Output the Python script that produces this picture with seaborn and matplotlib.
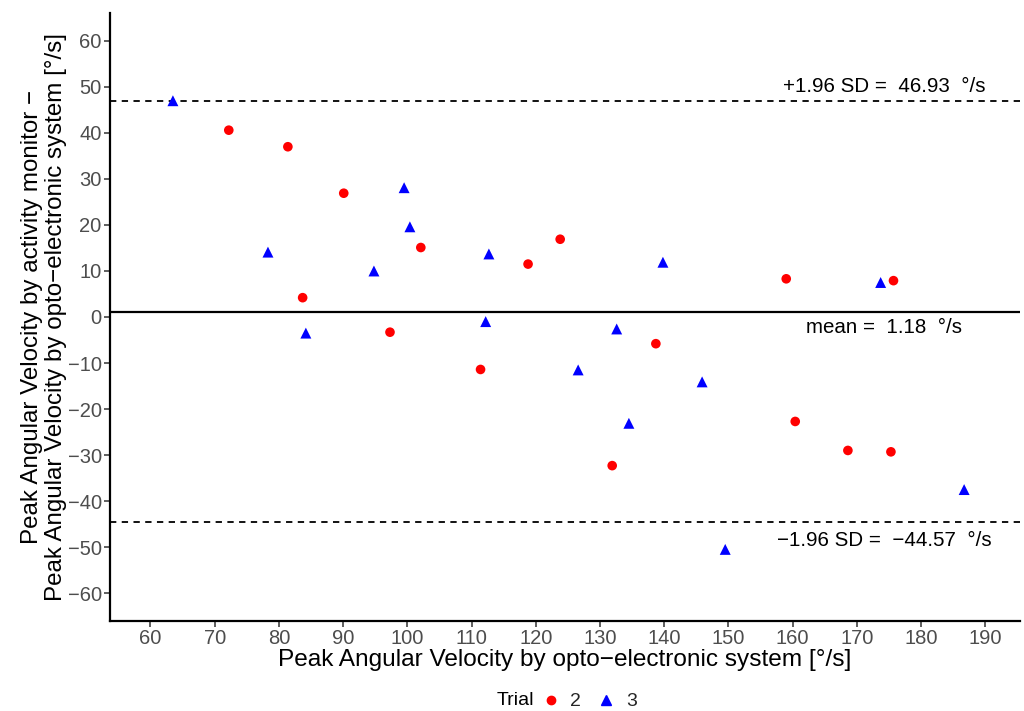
import matplotlib
matplotlib.use("Agg")
import matplotlib.pyplot as plt
import seaborn as sns
import pandas as pd
from matplotlib.lines import Line2D

# ---- data ----
trial2_x = [72.2, 81.4, 90.1, 102.1, 83.7, 97.3, 111.4, 118.8, 123.8, 159.0,
            175.7, 138.7, 131.9, 160.4, 168.6, 175.3]
trial2_y = [40.6, 37.0, 26.9, 15.1, 4.2, -3.3, -11.4, 11.5, 16.9, 8.3,
            7.9, -5.8, -32.3, -22.7, -29.0, -29.3]
trial3_x = [63.5, 99.5, 100.4, 78.3, 94.8, 112.7, 84.2, 112.2, 139.8, 173.7,
            132.6, 126.6, 145.9, 134.5, 186.7, 149.5]
trial3_y = [47.0, 28.1, 19.6, 14.1, 10.0, 13.7, -3.5, -1.0, 11.9, 7.5,
            -2.6, -11.5, -14.1, -23.1, -37.5, -50.5]
mean_diff = 1.18
upper_loa = 46.93
lower_loa = -44.57
x_ticks = list(range(60, 200, 10))
y_ticks = list(range(-60, 70, 10))
trial_labels = ["2", "3"]

df = pd.DataFrame({
    "x": trial2_x + trial3_x,
    "y": trial2_y + trial3_y,
    "Trial": [trial_labels[0]] * len(trial2_x) + [trial_labels[1]] * len(trial3_x),
})

sns.set_theme(style="white")
plt.rcParams["font.family"] = ["Liberation Sans", "DejaVu Sans"]

fig = plt.figure(figsize=(10.24, 7.11), dpi=100)
ax = fig.add_axes([0.1074, 0.127, 0.8887, 0.8543])

palette = {"2": "#FF0000", "3": "#0000FF"}
markers = {"2": "o", "3": "^"}
sns.scatterplot(data=df[df["Trial"] == "2"], x="x", y="y", hue="Trial", style="Trial",
                palette=palette, markers=markers, s=48, linewidth=0,
                ax=ax, legend=False, zorder=3)
sns.scatterplot(data=df[df["Trial"] == "3"], x="x", y="y", hue="Trial", style="Trial",
                palette=palette, markers=markers, s=62, linewidth=0,
                ax=ax, legend=False, zorder=3)

ax.axhline(mean_diff, color="black", lw=1.6, zorder=2)
ax.axhline(upper_loa, color="black", lw=1.3, ls=(0, (3.5, 3)), zorder=2)
ax.axhline(lower_loa, color="black", lw=1.3, ls=(0, (3.5, 3)), zorder=2)

tx = 174.3
ax.text(tx, 50.0, "+1.96 SD =  %.2f  °/s" % upper_loa, ha="center", va="center",
        fontsize=14.8, color="black")
ax.text(tx, -2.3, "mean =  %.2f  °/s" % mean_diff, ha="center", va="center",
        fontsize=14.8, color="black")
ax.text(tx, -48.6, "\u22121.96 SD =  \u2212%.2f  °/s" % abs(lower_loa), ha="center",
        va="center", fontsize=14.8, color="black")

ax.set_xlim(53.7, 195.4)
ax.set_ylim(-66, 66)
ax.set_xticks(x_ticks)
ax.set_yticks(y_ticks)
ax.set_xticklabels([str(v) for v in x_ticks])
ax.set_yticklabels([str(v).replace("-", "\u2212") for v in y_ticks])

for s in ["top", "right"]:
    ax.spines[s].set_visible(False)
for s in ["left", "bottom"]:
    ax.spines[s].set_color("black")
    ax.spines[s].set_linewidth(1.6)

ax.tick_params(axis="both", which="major", length=4, width=1.1, color="#333333",
               labelcolor="#4D4D4D", labelsize=14.5, direction="out", pad=2,
               bottom=True, left=True)

ax.set_xlabel("Peak Angular Velocity by opto\u2212electronic system [°/s]",
              fontsize=17.6, color="black", labelpad=1)
ax.set_ylabel("Peak Angular Velocity by activity monitor \u2212\n"
              "Peak Angular Velocity by opto\u2212electronic system [°/s]",
              fontsize=17.4, color="black", labelpad=0.5, linespacing=1.12)

# legend at bottom
handles = [
    Line2D([], [], marker="o", color="#FF0000", linestyle="none", markersize=6),
    Line2D([], [], marker="^", color="#0000FF", linestyle="none", markersize=6.5),
]
ly = (711 - 703) / 711
fig.text(0.485, ly + 0.004, "Trial", fontsize=14, color="black", ha="left", va="center")
fig.legend(handles, trial_labels, loc="center left", bbox_to_anchor=(0.515, ly + 0.002),
           ncol=2, frameon=False, fontsize=14, handlelength=1.0,
           handletextpad=0.5, columnspacing=0.8, borderpad=0.2)

fig.savefig("out.png", dpi=100)
